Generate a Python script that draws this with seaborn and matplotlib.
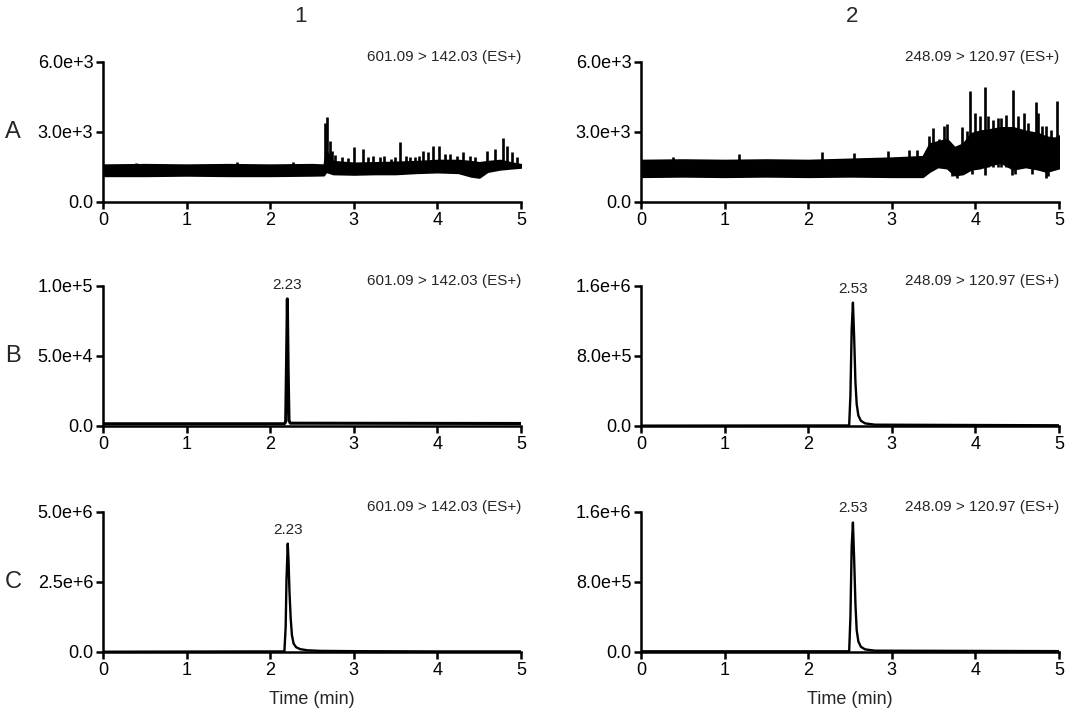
import matplotlib
matplotlib.use("Agg")
import matplotlib.pyplot as plt
from matplotlib.ticker import FuncFormatter
import numpy as np
import pandas as pd
import seaborn as sns

# --- panel A: noise band (low/high edges, x1e3) plus isolated spikes ---
a1_time = [0.0, 0.5, 1.0, 1.5, 2.0, 2.5, 2.64, 2.67, 2.75, 3.0, 3.25, 3.5, 3.75,
           4.0, 4.25, 4.4, 4.5, 4.6, 4.75, 4.9, 5.0]
a1_low = [1.12, 1.12, 1.14, 1.12, 1.12, 1.14, 1.15, 1.3, 1.2, 1.18, 1.2, 1.2, 1.25,
          1.28, 1.25, 1.1, 1.05, 1.3, 1.4, 1.45, 1.48]
a1_high = [1.6, 1.62, 1.6, 1.62, 1.6, 1.62, 1.6, 2.2, 1.75, 1.68, 1.7, 1.72, 1.75,
           1.8, 1.8, 1.75, 1.7, 1.75, 1.8, 1.68, 1.62]
a1_spike_t = [0.4, 1.6, 2.27, 2.655, 2.68, 2.71, 2.74, 2.78, 2.86, 2.93, 3.0, 3.11,
              3.17, 3.23, 3.31, 3.36, 3.45, 3.49, 3.55, 3.62, 3.67, 3.73, 3.78,
              3.83, 3.89, 3.95, 4.02, 4.09, 4.15, 4.23, 4.31, 4.39, 4.45, 4.59,
              4.69, 4.79, 4.83, 4.89, 4.95]
a1_spike_top = [1.68, 1.72, 1.72, 3.4, 3.65, 2.6, 2.2, 2.0, 1.95, 1.9, 2.37, 2.27,
                1.91, 1.99, 1.91, 1.99, 1.84, 1.91, 2.56, 1.99, 1.91, 1.91, 1.99,
                2.2, 2.13, 2.41, 2.41, 2.06, 2.06, 1.99, 2.13, 1.99, 1.91, 2.2,
                2.27, 2.74, 2.41, 2.13, 1.91]

a2_time = [0.0, 0.5, 1.0, 1.5, 2.0, 2.5, 3.0, 3.37, 3.45, 3.55, 3.66, 3.75, 3.85,
           3.95, 4.05, 4.15, 4.3, 4.45, 4.6, 4.75, 4.85, 4.95, 5.0]
a2_low = [1.08, 1.1, 1.08, 1.1, 1.08, 1.1, 1.08, 1.08, 1.3, 1.5, 1.45, 1.15, 1.2,
          1.4, 1.45, 1.55, 1.7, 1.4, 1.5, 1.4, 1.3, 1.4, 1.45]
a2_high = [1.8, 1.82, 1.8, 1.82, 1.8, 1.85, 1.9, 1.96, 2.5, 2.6, 2.7, 2.35, 2.5,
           2.95, 3.05, 3.1, 3.2, 3.2, 3.05, 2.95, 2.8, 2.75, 2.85]
a2_spike_t = [0.38, 1.17, 2.17, 2.55, 2.95, 3.2, 3.3, 3.44, 3.49, 3.56, 3.62, 3.66,
              3.84, 3.90, 3.94, 4.0, 4.06, 4.11, 4.15, 4.21, 4.27, 4.31, 4.37,
              4.45, 4.51, 4.58, 4.63, 4.72, 4.75, 4.80, 4.85, 4.91, 4.98]
a2_spike_top = [1.94, 2.07, 2.14, 2.1, 2.2, 2.25, 2.25, 2.82, 3.18, 2.68, 3.25, 3.36,
                3.2, 3.03, 4.74, 3.82, 3.67, 4.92, 3.67, 3.53, 3.6, 3.6, 3.74,
                4.78, 3.67, 3.82, 3.39, 4.27, 3.82, 3.25, 3.25, 3.1, 4.31]
a2_dip_t = [3.72, 3.78, 3.96, 4.12, 4.44, 4.47, 4.68, 4.84, 4.87]
a2_dip_bottom = [1.1, 1.05, 1.2, 1.15, 1.15, 1.2, 1.2, 1.05, 1.1]

# --- panels B and C: single peaks ---
b1_time = [0.0, 2.17, 2.185, 2.195, 2.205, 2.215, 2.225, 2.24, 2.30, 5.0]
b1_vals = [1.6, 1.6, 3.0, 45.0, 90.8, 40.0, 4.0, 2.0, 2.0, 1.8]            # x1e3

b2_time = [0.0, 2.0, 2.49, 2.505, 2.52, 2.535, 2.55, 2.565, 2.58, 2.60, 2.63,
           2.68, 2.8, 5.0]
b2_vals = [0.004, 0.006, 0.006, 0.35, 1.1, 1.41, 1.0, 0.5, 0.25, 0.12, 0.06,
           0.03, 0.015, 0.008]                                                # x1e6

c1_time = [0.0, 1.75, 2.17, 2.185, 2.195, 2.21, 2.22, 2.23, 2.245, 2.26, 2.28,
           2.31, 2.36, 2.45, 2.6, 3.0, 4.0, 5.0]
c1_vals = [0.01, 0.02, 0.02, 0.9, 2.6, 3.87, 3.2, 2.2, 1.2, 0.6, 0.3, 0.17, 0.1,
           0.06, 0.04, 0.03, 0.02, 0.02]                                      # x1e6

c2_time = [0.0, 2.49, 2.505, 2.52, 2.535, 2.55, 2.565, 2.58, 2.60, 2.63, 2.68,
           2.8, 5.0]
c2_vals = [0.008, 0.008, 0.4, 1.2, 1.48, 1.05, 0.55, 0.25, 0.12, 0.06, 0.03,
           0.015, 0.01]                                                       # x1e6

col_titles = ["1", "2"]
row_labels = ["A", "B", "C"]
transitions = ["601.09 > 142.03 (ES+)", "248.09 > 120.97 (ES+)"]
peak_labels = ["2.23", "2.53"]
ylims = [[6e3, 6e3], [1e5, 1.6e6], [5e6, 1.6e6]]
xticks = [0, 1, 2, 3, 4, 5]

sns.set_theme(style="ticks")
plt.rcParams['font.family'] = ['Liberation Sans', 'DejaVu Sans']

fig = plt.figure(figsize=(10.65, 7.21), dpi=100)
W, H = 1065.0, 721.0
col_left = [103, 641]
row_bottom = [202, 426, 652]
ax_w, ax_h = 418, 140


def sci_fmt(v, pos):
    if v == 0:
        return "0.0"
    e = int(np.floor(np.log10(abs(v)) + 1e-9))
    return "%.1fe+%d" % (v / 10 ** e, e)


axes = {}
for r in range(3):
    for c in range(2):
        ax = fig.add_axes([col_left[c] / W, 1 - row_bottom[r] / H, ax_w / W, ax_h / H])
        axes[(r, c)] = ax

# noise traces of row A
noise = [(a1_time, a1_low, a1_high, a1_spike_t, a1_spike_top),
         (a2_time, a2_low, a2_high, a2_spike_t, a2_spike_top)]
for c, (t, lo, hi, st, stop) in enumerate(noise):
    ax = axes[(0, c)]
    ax.fill_between(t, np.array(lo) * 1e3, np.array(hi) * 1e3, color="black",
                    lw=1.2, edgecolor="black")
    ax.vlines(st, 1.5e3, np.array(stop) * 1e3, color="black", lw=1.9)
axes[(0, 1)].vlines(a2_dip_t, np.array(a2_dip_bottom) * 1e3, 1.6e3, color="black",
                    lw=1.9)

# peaks of rows B and C
peaks = {(1, 0): (b1_time, np.array(b1_vals) * 1e3),
         (1, 1): (b2_time, np.array(b2_vals) * 1e6),
         (2, 0): (c1_time, np.array(c1_vals) * 1e6),
         (2, 1): (c2_time, np.array(c2_vals) * 1e6)}
for (r, c), (t, y) in peaks.items():
    ax = axes[(r, c)]
    df = pd.DataFrame({"time": t, "signal": y})
    sns.lineplot(data=df, x="time", y="signal", ax=ax, color="black",
                 lw=2.2 if (r, c) == (1, 0) else 1.7, estimator=None, sort=False)
    i = int(np.argmax(y))
    ax.annotate(peak_labels[c], xy=(t[i], y[i]), xytext=(0, 14),
                textcoords="offset pixels", ha="center", va="center", fontsize=11)

for (r, c), ax in axes.items():
    ax.set_xlim(0, 5)
    ax.set_ylim(0, ylims[r][c])
    ax.set_xticks(xticks)
    ax.set_yticks([0, ylims[r][c] / 2, ylims[r][c]])
    ax.yaxis.set_major_formatter(FuncFormatter(sci_fmt))
    ax.set_xlabel("")
    ax.set_ylabel("")
    sns.despine(ax=ax)
    for s in ["left", "bottom"]:
        ax.spines[s].set_linewidth(1.8)
        ax.spines[s].set_color("black")
    ax.tick_params(direction="out", length=5, width=1.8, labelsize=13,
                   colors="black", pad=2)
    ax.text(1.0, 1.035, transitions[c], transform=ax.transAxes, ha="right",
            va="center", fontsize=11)
    ax.set_facecolor("white")

fig.text(300 / W, 1 - 16 / H, col_titles[0], ha="center", va="center", fontsize=16)
fig.text(852 / W, 1 - 16 / H, col_titles[1], ha="center", va="center", fontsize=16)
for r, lab in enumerate(row_labels):
    fig.text(13 / W, 1 - (row_bottom[r] - 70) / H, lab, ha="center", va="center",
             fontsize=17)
for c in range(2):
    fig.text((col_left[c] + ax_w / 2) / W, 1 - 700 / H, "Time (min)", ha="center",
             va="center", fontsize=13)

fig.savefig("out.png", dpi=100, facecolor="white")
